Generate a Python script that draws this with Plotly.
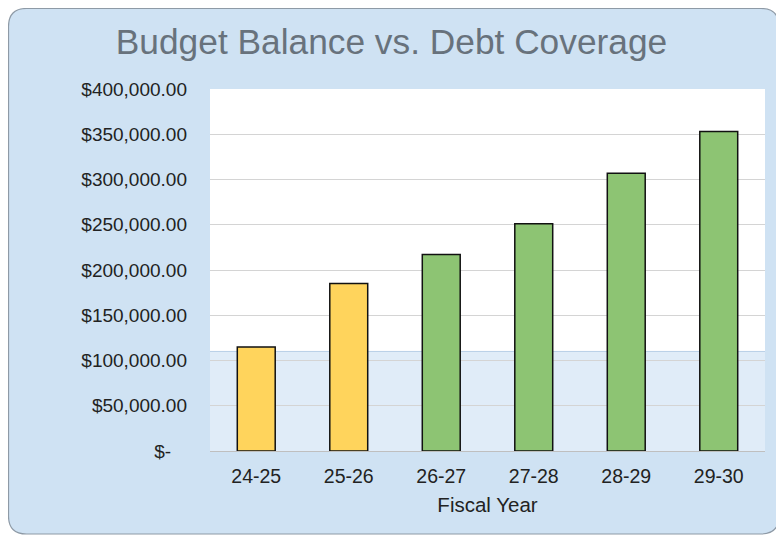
import plotly.graph_objects as go

# ---- data ----
fiscal_years = ["24-25", "25-26", "26-27", "27-28", "28-29", "29-30"]
budget_balance = [115000, 185000, 217000, 251000, 307000, 353000]
debt_coverage = 110000
y_tick_vals = [0, 50000, 100000, 150000, 200000, 250000, 300000, 350000, 400000]
y_tick_text = ["$-\u00a0\u00a0\u00a0", "$50,000.00", "$100,000.00", "$150,000.00", "$200,000.00",
               "$250,000.00", "$300,000.00", "$350,000.00", "$400,000.00"]

YELLOW = "#FFD45C"
GREEN = "#8DC473"
colors = [YELLOW if i < 2 else GREEN for i in range(len(fiscal_years))]

# page has an 8px body margin: figure sits at (8, 8)
OFF = 8
W, H = 784 - OFF, 538 - OFF
# plot area in page pixels
PL, PR, PT, PB = 210, 765, 89, 451
L, R, T, B = PL - OFF, W - (PR - OFF), PT - OFF, H - (PB - OFF)
pw, ph = PR - PL, PB - PT


def px(x):
    return (x - PL) / pw


def py(y):
    return (PB - y) / ph


# rounded background panel (page pixel geometry converted to paper coords)
x0, x1, y0, y1, r = 8.5, 779, 8.5, 534, 18
path = (
    f"M {px(x0+r)},{py(y0)} L {px(x1-r)},{py(y0)} Q {px(x1)},{py(y0)} {px(x1)},{py(y0+r)} "
    f"L {px(x1)},{py(y1-r)} Q {px(x1)},{py(y1)} {px(x1-r)},{py(y1)} "
    f"L {px(x0+r)},{py(y1)} Q {px(x0)},{py(y1)} {px(x0)},{py(y1-r)} "
    f"L {px(x0)},{py(y0+r)} Q {px(x0)},{py(y0)} {px(x0+r)},{py(y0)} Z"
)

fig = go.Figure()
fig.add_trace(go.Bar(
    x=fiscal_years, y=budget_balance,
    marker=dict(color=colors, line=dict(color="#111111", width=1.5)),
    width=0.41,
))

shapes = [
    dict(type="path", path=path, xref="paper", yref="paper", layer="below",
         fillcolor="#CFE2F3", line=dict(color="#8E9AA6", width=1.2)),
    dict(type="rect", xref="paper", yref="paper", x0=0, x1=1, y0=0, y1=1, layer="below",
         fillcolor="white", line=dict(width=0)),
    dict(type="rect", xref="paper", yref="y", x0=0, x1=1, y0=0, y1=debt_coverage, layer="below",
         fillcolor="rgba(198,220,243,0.55)", line=dict(width=0)),
    dict(type="line", xref="paper", yref="y", x0=0, x1=1, y0=debt_coverage, y1=debt_coverage,
         layer="below", line=dict(color="#B8CFE7", width=1)),
]

FONT = "Arial, Liberation Sans, sans-serif"
fig.update_layout(
    width=W, height=H,
    margin=dict(l=L, r=R, t=T, b=B),
    paper_bgcolor="white",
    plot_bgcolor="rgba(0,0,0,0)",
    shapes=shapes,
    showlegend=False,
    font=dict(family=FONT, color="#222222", size=19),
    title=dict(text="Budget Balance vs. Debt Coverage", x=px(391.5), xref="paper", xanchor="center",
               y=1 - (42 - OFF) / H, yanchor="middle",
               font=dict(size=35.3, color="#68727C", family=FONT)),
)
fig.update_xaxes(
    showgrid=False, showline=True, linecolor="#BFBFBF", linewidth=1,
    ticks="", tickfont=dict(size=19.5, color="#222222"), ticklabelstandoff=8,
    title=dict(text="Fiscal Year", font=dict(size=20.5, color="#222222"), standoff=11),
)
fig.update_yaxes(
    range=[0, 400000], tickvals=y_tick_vals, ticktext=y_tick_text,
    showgrid=True, gridcolor="#D4D4D4", gridwidth=1, zeroline=False,
    showline=False, ticks="", ticklabelstandoff=22,
    tickfont=dict(size=19, color="#222222"),
)

fig.write_html("out.html")
